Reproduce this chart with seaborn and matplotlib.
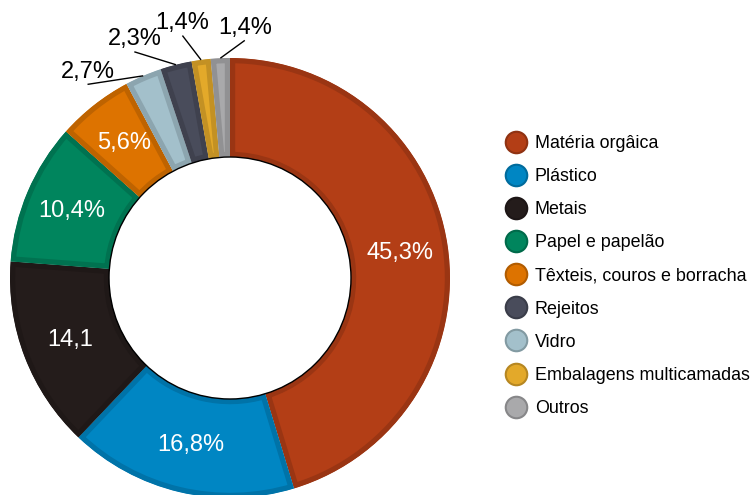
import numpy as np
import matplotlib
matplotlib.use("Agg")
import matplotlib.pyplot as plt
import seaborn as sns
from matplotlib.lines import Line2D
from matplotlib.colors import to_rgb

# Composition of collected waste (share of total mass, %)
categories = ["Matéria orgâica", "Plástico", "Metais", "Papel e papelão",
              "Têxteis, couros e borracha", "Rejeitos", "Vidro",
              "Embalagens multicamadas", "Outros"]
shares = [45.3, 16.8, 14.1, 10.4, 5.6, 2.3, 2.7, 1.4, 1.4]
share_labels = ["45,3%", "16,8%", "14,1", "10,4%", "5,6%", "2,3%", "2,7%", "1,4%", "1,4%"]
colors = ["#B33E16", "#0086C3", "#241C1B", "#00855D", "#DD7300",
          "#494C5B", "#A3C0CB", "#E3A92A", "#A9A9AB"]

# order of the slices around the ring (clockwise from the top)
ring_order = [0, 1, 2, 3, 4, 6, 5, 7, 8]
# small-slice labels outside the ring: angular spread (deg) and radius
outer_nudge = [11.4, 7.6, 3.0, -5.9]
outer_radius = [1.14, 1.17, 1.18, 1.14]

sns.set_theme(style="white")
plt.rcParams["font.family"] = ["Liberation Sans", "DejaVu Sans"]
plt.rcParams["text.color"] = "black"


def shade(c, f):
    r, g, b = to_rgb(c)
    return (r * f, g * f, b * f)


fig = plt.figure(figsize=(7.53, 4.95), dpi=100)
ax = fig.add_axes([10 / 753, -3 / 495, 440 / 753, 440 / 495])

ring_vals = [shares[i] for i in ring_order]
ring_cols = [colors[i] for i in ring_order]
wedges, _ = ax.pie(ring_vals, colors=ring_cols, startangle=90, counterclock=False,
                   radius=1.0, wedgeprops=dict(width=0.45, linewidth=0))

# bevelled rim: darker stroke kept inside each slice
for w, i in zip(wedges, ring_order):
    w.set_edgecolor(shade(colors[i], 0.86))
    w.set_linewidth(7.5)
    w.set_joinstyle("miter")
    w.set_clip_path(w)
    w.set_clip_on(True)

ax.add_patch(plt.Circle((0, 0), 0.55, fill=False, ec="black", lw=1.0, zorder=5))

k = 0
for w, i in zip(wedges, ring_order):
    mid = np.deg2rad((w.theta1 + w.theta2) / 2)
    if shares[i] >= 3:
        r = 0.78
        ax.text(r * np.cos(mid), r * np.sin(mid), share_labels[i], color="white",
                fontsize=17, ha="center", va="center", zorder=6)
    else:
        ang = mid + np.deg2rad(outer_nudge[k])
        rr = outer_radius[k]
        k += 1
        tx, ty = rr * np.cos(ang), rr * np.sin(ang)
        ax.text(tx, ty, share_labels[i], color="black", fontsize=17,
                ha="center", va="center", zorder=6)
        ax.plot([np.cos(mid), tx], [np.sin(mid), ty - 0.058], color="black",
                lw=1.0, solid_capstyle="butt", clip_on=False, zorder=6)

ax.set_xlim(-1, 1)
ax.set_ylim(-1, 1)
ax.set_aspect("equal")
ax.axis("off")

handles = [Line2D([], [], ls="none", marker="o", markersize=15.5,
                  markerfacecolor=c, markeredgecolor=shade(c, 0.8),
                  markeredgewidth=1.5) for c in colors]
leg = fig.legend(handles, categories, loc="center left",
                 bbox_to_anchor=(507 / 753, 219 / 495), frameon=False,
                 fontsize=12.9, handlelength=1.0, handletextpad=0.55,
                 labelspacing=0.9, borderpad=0, borderaxespad=0)
for t in leg.get_texts():
    t.set_color("black")

fig.savefig("out.png", dpi=100)
